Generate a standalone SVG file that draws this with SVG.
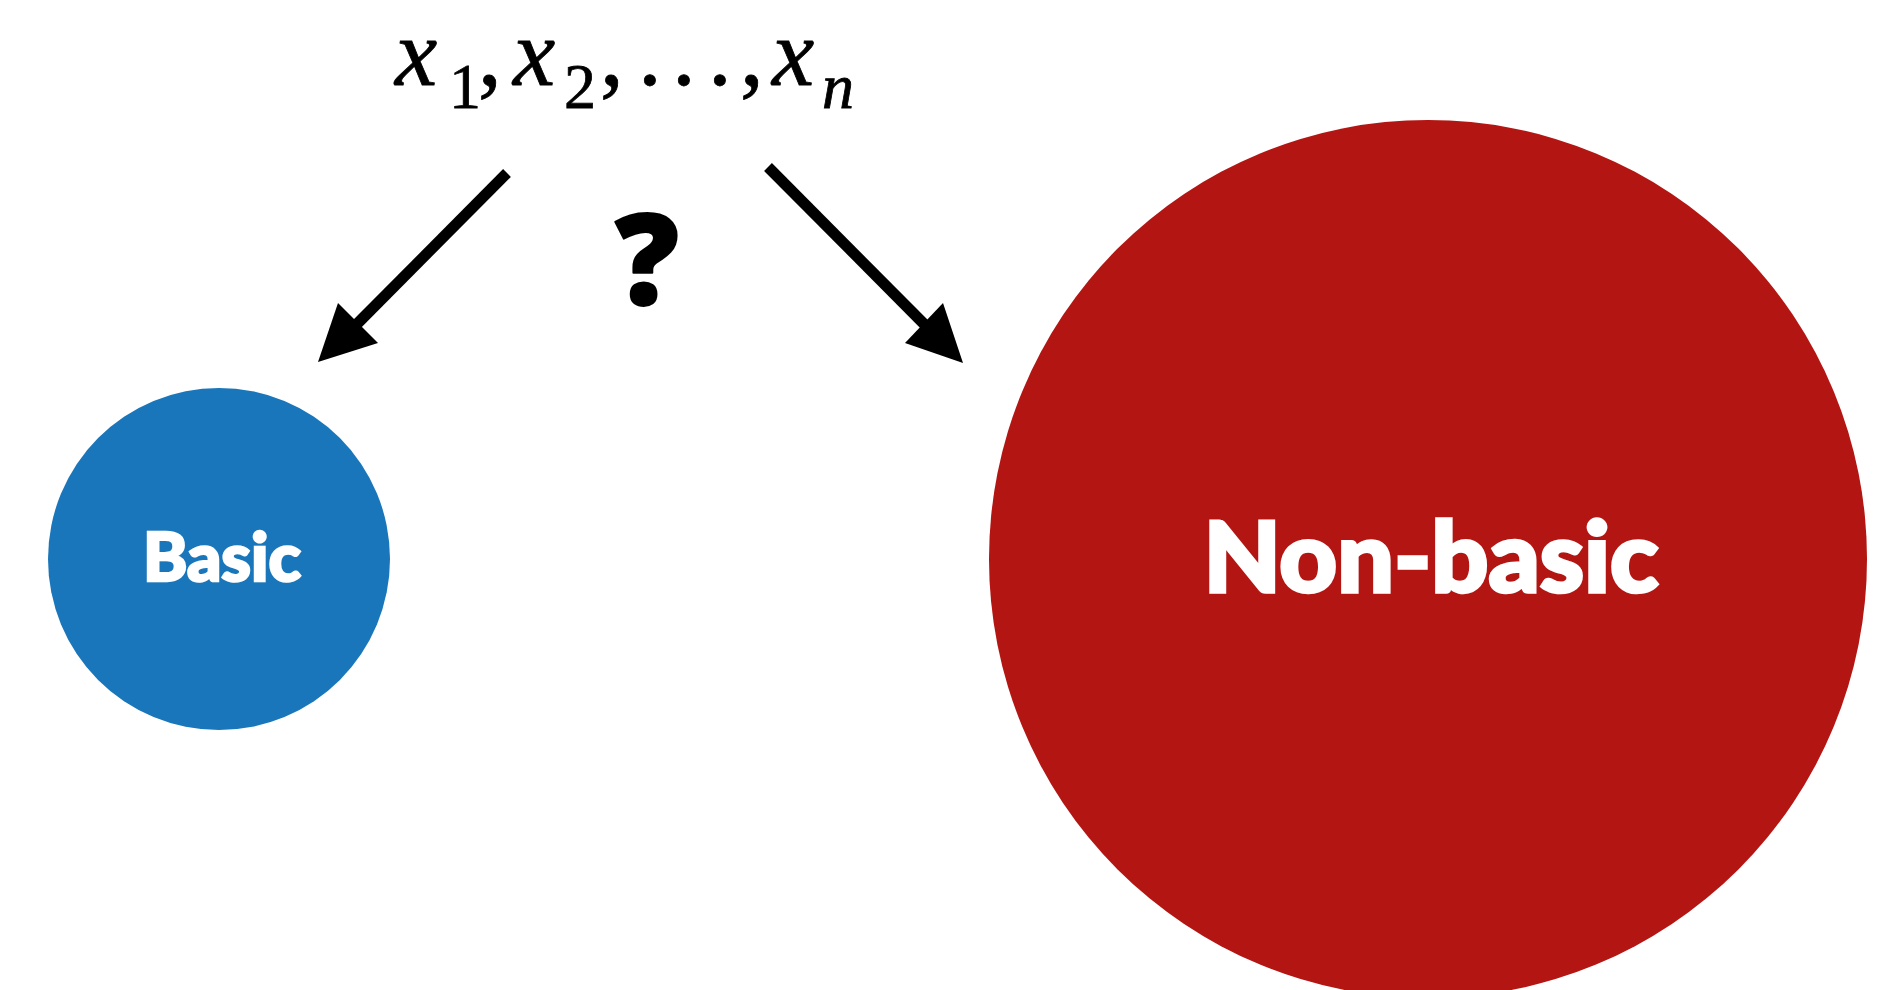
<svg xmlns="http://www.w3.org/2000/svg" width="1880" height="990" viewBox="0 0 1880 990">
<style>
.math{font-family:"Liberation Serif","Times New Roman",serif;fill:#000;stroke:#000;stroke-width:0.8}
.it{font-style:italic}
.lbl{font-family:Lato,"Liberation Sans",Arial,sans-serif;font-weight:900;fill:#fff;stroke:#fff;text-anchor:middle}
.conn{stroke:#000;stroke-width:11;fill:none}
.head{fill:#000}
</style>
<rect width="1880" height="990" fill="#fff"/>
<g id="title">
<text class="math" font-size="95"><tspan class="it" x="395" y="85">x</tspan><tspan font-size="64" x="449" y="108">1</tspan><tspan x="478" y="85">,</tspan><tspan class="it" x="513" y="85">x</tspan><tspan font-size="64" x="564" y="108">2</tspan><tspan x="600" y="85">,</tspan><tspan x="638" y="85">.</tspan><tspan x="672" y="85">.</tspan><tspan x="708" y="85">.</tspan><tspan x="740" y="85">,</tspan><tspan class="it" x="772" y="85">x</tspan><tspan class="it" font-size="64" x="822" y="108">n</tspan></text>
</g>
<g id="question">
<text font-family="'Open Sans','Liberation Sans',Arial,sans-serif" font-weight="800" font-size="126" x="647" y="304" text-anchor="middle" fill="#000" stroke="#000" stroke-width="2" stroke-linejoin="round">?</text>
</g>
<g id="connectors">
<line class="conn" x1="507" y1="173" x2="348" y2="333"/>
<polygon class="head" points="318,362 338,303 378,343"/>
<line class="conn" x1="768" y1="167" x2="933" y2="333"/>
<polygon class="head" points="963,363 943,303 905,343"/>
</g>
<g id="basic">
<circle cx="219" cy="559" r="171" fill="#1976BA"/>
<text class="lbl" font-size="66" stroke-width="2.5" x="222" y="581" textLength="158" lengthAdjust="spacingAndGlyphs">Basic</text>
</g>
<g id="nonbasic">
<circle cx="1428" cy="559" r="439" fill="#B31512"/>
<text class="lbl" font-size="97" stroke-width="3.5" x="1431" y="592" textLength="455" lengthAdjust="spacingAndGlyphs">Non-basic</text>
</g>
</svg>
